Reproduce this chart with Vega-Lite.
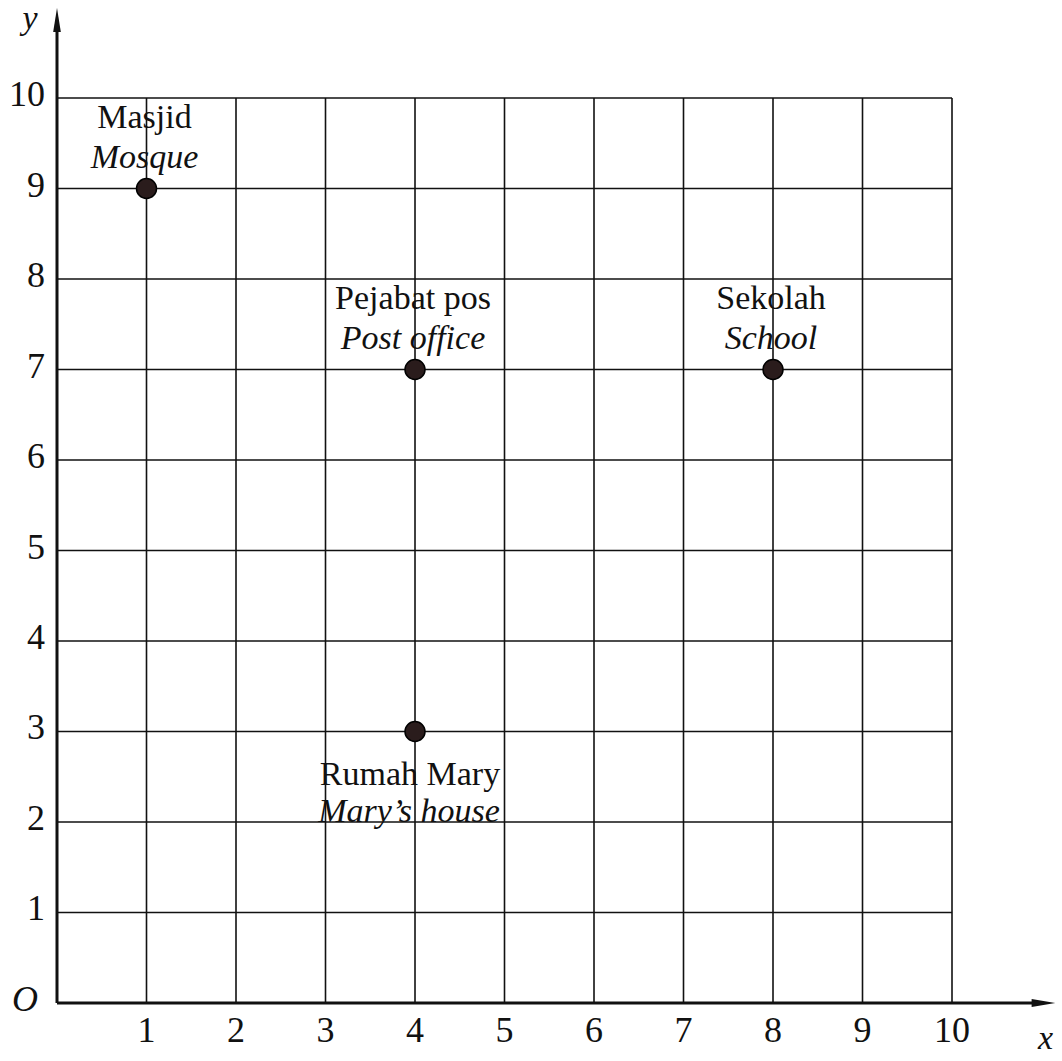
{
  "$schema": "https://vega.github.io/schema/vega-lite/v6.json",
  "width": 1062,
  "height": 1061,
  "padding": 0,
  "autosize": {"type": "none"},
  "background": "white",
  "config": {"view": {"stroke": null}, "text": {"font": "Liberation Serif", "color": "#111"}},
  "datasets": {
    "grid": [{"v": 1}, {"v": 2}, {"v": 3}, {"v": 4}, {"v": 5}, {"v": 6}, {"v": 7}, {"v": 8}, {"v": 9}, {"v": 10}],
    "places": [
      {"line1": "Masjid", "line2": "Mosque", "x": 1, "y": 9, "pos": "above"},
      {"line1": "Pejabat pos", "line2": "Post office", "x": 4, "y": 7, "pos": "above"},
      {"line1": "Sekolah", "line2": "School", "x": 8, "y": 7, "pos": "above"},
      {"line1": "Rumah Mary", "line2": "Mary’s house", "x": 4, "y": 3, "pos": "below"}
    ],
    "one": [{}]
  },
  "layer": [
    {
      "data": {"name": "grid"},
      "mark": {"type": "rule", "stroke": "#111", "strokeWidth": 1.6},
      "encoding": {
        "x": {"field": "v", "type": "quantitative", "scale": {"domain": [-0.6369, 11.229], "nice": false, "zero": false}, "axis": null},
        "y": {"datum": 0, "type": "quantitative", "scale": {"domain": [-0.641, 11.083], "nice": false, "zero": false}, "axis": null},
        "y2": {"datum": 10}
      }
    },
    {
      "data": {"name": "grid"},
      "mark": {"type": "rule", "stroke": "#111", "strokeWidth": 1.6},
      "encoding": {
        "y": {"field": "v", "type": "quantitative", "scale": {"domain": [-0.641, 11.083], "nice": false, "zero": false}, "axis": null},
        "x": {"datum": 0, "type": "quantitative", "scale": {"domain": [-0.6369, 11.229], "nice": false, "zero": false}, "axis": null},
        "x2": {"datum": 10}
      }
    },
    {
      "data": {"name": "one"},
      "mark": {"type": "rule", "stroke": "#111", "strokeWidth": 3},
      "encoding": {
        "x": {"datum": 0, "type": "quantitative", "scale": {"domain": [-0.6369, 11.229], "nice": false, "zero": false}, "axis": null},
        "y": {"datum": 0, "type": "quantitative", "scale": {"domain": [-0.641, 11.083], "nice": false, "zero": false}, "axis": null},
        "y2": {"datum": 10.75}
      }
    },
    {
      "data": {"name": "one"},
      "mark": {"type": "rule", "stroke": "#111", "strokeWidth": 3},
      "encoding": {
        "x": {"datum": 0, "type": "quantitative", "scale": {"domain": [-0.6369, 11.229], "nice": false, "zero": false}, "axis": null},
        "x2": {"datum": 10.95},
        "y": {"datum": 0, "type": "quantitative", "scale": {"domain": [-0.641, 11.083], "nice": false, "zero": false}, "axis": null}
      }
    },
    {
      "data": {"name": "one"},
      "mark": {"type": "point", "filled": true, "color": "#111", "opacity": 1, "size": 576, "shape": "M0,-1L0.32,1L-0.32,1Z"},
      "encoding": {
        "x": {"datum": 0, "type": "quantitative", "scale": {"domain": [-0.6369, 11.229], "nice": false, "zero": false}, "axis": null},
        "y": {"datum": 10.862, "type": "quantitative", "scale": {"domain": [-0.641, 11.083], "nice": false, "zero": false}, "axis": null}
      }
    },
    {
      "data": {"name": "one"},
      "mark": {"type": "point", "filled": true, "color": "#111", "opacity": 1, "size": 560, "shape": "M1,0L-1,0.34L-1,-0.34Z"},
      "encoding": {
        "x": {"datum": 11.022, "type": "quantitative", "scale": {"domain": [-0.6369, 11.229], "nice": false, "zero": false}, "axis": null},
        "y": {"datum": 0, "type": "quantitative", "scale": {"domain": [-0.641, 11.083], "nice": false, "zero": false}, "axis": null}
      }
    },
    {
      "data": {"name": "grid"},
      "mark": {"type": "text", "fontSize": 36, "align": "center", "baseline": "alphabetic", "dy": 39},
      "encoding": {
        "x": {"field": "v", "type": "quantitative", "scale": {"domain": [-0.6369, 11.229], "nice": false, "zero": false}, "axis": null},
        "y": {"datum": 0, "type": "quantitative", "scale": {"domain": [-0.641, 11.083], "nice": false, "zero": false}, "axis": null},
        "text": {"field": "v", "type": "quantitative"}
      }
    },
    {
      "data": {"name": "grid"},
      "mark": {"type": "text", "fontSize": 36, "align": "right", "baseline": "middle", "dx": -12, "dy": -3},
      "encoding": {
        "y": {"field": "v", "type": "quantitative", "scale": {"domain": [-0.641, 11.083], "nice": false, "zero": false}, "axis": null},
        "x": {"datum": 0, "type": "quantitative", "scale": {"domain": [-0.6369, 11.229], "nice": false, "zero": false}, "axis": null},
        "text": {"field": "v", "type": "quantitative"}
      }
    },
    {
      "data": {"name": "one"},
      "mark": {"type": "text", "fontSize": 36, "fontStyle": "italic", "align": "center", "baseline": "middle", "dx": -32, "dy": -3, "text": "O"},
      "encoding": {
        "x": {"datum": 0, "type": "quantitative", "scale": {"domain": [-0.6369, 11.229], "nice": false, "zero": false}, "axis": null},
        "y": {"datum": 0, "type": "quantitative", "scale": {"domain": [-0.641, 11.083], "nice": false, "zero": false}, "axis": null}
      }
    },
    {
      "data": {"name": "one"},
      "mark": {"type": "text", "fontSize": 34, "fontStyle": "italic", "align": "center", "baseline": "alphabetic", "dx": -27, "dy": 9, "text": "y"},
      "encoding": {
        "x": {"datum": 0, "type": "quantitative", "scale": {"domain": [-0.6369, 11.229], "nice": false, "zero": false}, "axis": null},
        "y": {"datum": 10.862, "type": "quantitative", "scale": {"domain": [-0.641, 11.083], "nice": false, "zero": false}, "axis": null}
      }
    },
    {
      "data": {"name": "one"},
      "mark": {"type": "text", "fontSize": 34, "fontStyle": "italic", "align": "center", "baseline": "alphabetic", "dx": 2, "dy": 46, "text": "x"},
      "encoding": {
        "x": {"datum": 11.022, "type": "quantitative", "scale": {"domain": [-0.6369, 11.229], "nice": false, "zero": false}, "axis": null},
        "y": {"datum": 0, "type": "quantitative", "scale": {"domain": [-0.641, 11.083], "nice": false, "zero": false}, "axis": null}
      }
    },
    {
      "data": {"name": "places"},
      "mark": {"type": "point", "shape": "circle", "filled": true, "fill": "#2a1c1c", "stroke": "#000", "strokeWidth": 1.5, "opacity": 1, "size": 400},
      "encoding": {
        "x": {"field": "x", "type": "quantitative", "scale": {"domain": [-0.6369, 11.229], "nice": false, "zero": false}, "axis": null},
        "y": {"field": "y", "type": "quantitative", "scale": {"domain": [-0.641, 11.083], "nice": false, "zero": false}, "axis": null}
      }
    },
    {
      "data": {"name": "places"},
      "transform": [{"filter": "datum.pos === 'above'"}],
      "mark": {"type": "text", "fontSize": 34, "align": "center", "baseline": "alphabetic", "dy": -61, "dx": -2},
      "encoding": {
        "x": {"field": "x", "type": "quantitative", "scale": {"domain": [-0.6369, 11.229], "nice": false, "zero": false}, "axis": null},
        "y": {"field": "y", "type": "quantitative", "scale": {"domain": [-0.641, 11.083], "nice": false, "zero": false}, "axis": null},
        "text": {"field": "line1", "type": "nominal"}
      }
    },
    {
      "data": {"name": "places"},
      "transform": [{"filter": "datum.pos === 'above'"}],
      "mark": {"type": "text", "fontSize": 34, "fontStyle": "italic", "align": "center", "baseline": "alphabetic", "dy": -21, "dx": -2},
      "encoding": {
        "x": {"field": "x", "type": "quantitative", "scale": {"domain": [-0.6369, 11.229], "nice": false, "zero": false}, "axis": null},
        "y": {"field": "y", "type": "quantitative", "scale": {"domain": [-0.641, 11.083], "nice": false, "zero": false}, "axis": null},
        "text": {"field": "line2", "type": "nominal"}
      }
    },
    {
      "data": {"name": "places"},
      "transform": [{"filter": "datum.pos === 'below'"}],
      "mark": {"type": "text", "fontSize": 34, "align": "center", "baseline": "alphabetic", "dy": 54, "dx": -5},
      "encoding": {
        "x": {"field": "x", "type": "quantitative", "scale": {"domain": [-0.6369, 11.229], "nice": false, "zero": false}, "axis": null},
        "y": {"field": "y", "type": "quantitative", "scale": {"domain": [-0.641, 11.083], "nice": false, "zero": false}, "axis": null},
        "text": {"field": "line1", "type": "nominal"}
      }
    },
    {
      "data": {"name": "places"},
      "transform": [{"filter": "datum.pos === 'below'"}],
      "mark": {"type": "text", "fontSize": 34, "fontStyle": "italic", "align": "center", "baseline": "alphabetic", "dy": 91, "dx": -6},
      "encoding": {
        "x": {"field": "x", "type": "quantitative", "scale": {"domain": [-0.6369, 11.229], "nice": false, "zero": false}, "axis": null},
        "y": {"field": "y", "type": "quantitative", "scale": {"domain": [-0.641, 11.083], "nice": false, "zero": false}, "axis": null},
        "text": {"field": "line2", "type": "nominal"}
      }
    }
  ]
}
